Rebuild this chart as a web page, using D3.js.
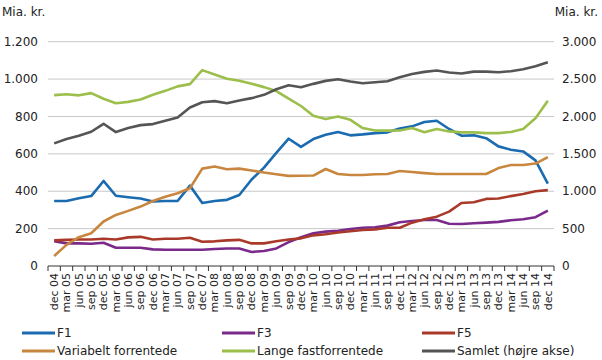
<!DOCTYPE html>
<html><head><meta charset="utf-8">
<script src="https://cdn.jsdelivr.net/npm/d3@7"></script>
<style>body{margin:0;background:#fff}svg{display:block}text{font-family:"DejaVu Sans",Verdana,sans-serif;fill:#222}</style>
</head><body><svg id="c" width="602" height="360"></svg>
<script>
const categories = ["dec 04","mar 05","jun 05","sep 05","dec 05","mar 06","jun 06","sep 06","dec 06","mar 07","jun 07","sep 07","dec 07","mar 08","jun 08","sep 08","dec 08","mar 09","jun 09","sep 09","dec 09","mar 10","jun 10","sep 10","dec 10","mar 11","jun 11","sep 11","dec 11","mar 12","jun 12","sep 12","dec 12","mar 13","jun 13","sep 13","dec 13","mar 14","jun 14","sep 14","dec 14"];
const F1 = [348,348,362,374,455,376,368,361,345,348,348,430,337,348,354,380,463,526,605,681,637,679,702,717,699,704,711,715,736,747,770,777,733,697,699,684,640,622,613,565,441];
const F3 = [133,121,121,119,124,98,98,98,89,87,87,87,87,91,94,94,75,80,94,128,154,175,184,189,198,205,207,216,234,241,246,246,226,225,229,232,236,245,250,261,296];
const F5 = [137,140,142,142,146,142,153,156,142,146,146,151,130,132,137,140,121,121,132,142,148,164,170,179,186,193,196,205,205,232,250,264,291,337,341,359,361,374,385,400,406];
const variabelt = [54,113,154,175,238,273,295,318,348,371,389,416,521,532,518,521,511,500,491,482,483,484,519,492,487,487,491,492,508,503,497,492,492,492,492,492,524,540,540,548,583];
const lange = [914,919,913,925,895,871,878,891,916,937,961,973,1048,1025,1002,991,975,957,936,895,856,804,786,800,782,738,725,724,725,738,716,733,720,715,715,711,711,717,733,791,884];
const samlet = [1640,1698,1742,1796,1902,1791,1845,1884,1898,1942,1987,2120,2191,2205,2178,2213,2245,2289,2364,2418,2391,2436,2476,2498,2467,2445,2458,2471,2525,2569,2596,2614,2587,2574,2600,2600,2591,2605,2631,2671,2725];
const leftTicks = [0,200,400,600,800,1000,1200];
const rightTicks = [0,500,1000,1500,2000,2500,3000];
const seriesNames = ["F1","F3","F5","Variabelt forrentede","Lange fastforrentede","Samlet (højre akse)"];

const colors = ["#1a6bb0","#7a2a8a","#a93a2a","#c8863e","#9bbf4a","#555555"];
const series = [
  {name:seriesNames[0], values:F1, axis:"L"},
  {name:seriesNames[1], values:F3, axis:"L"},
  {name:seriesNames[2], values:F5, axis:"L"},
  {name:seriesNames[3], values:variabelt, axis:"L"},
  {name:seriesNames[4], values:lange, axis:"L"},
  {name:seriesNames[5], values:samlet, axis:"R"}
];

const svg = d3.select("#c");
const x0 = 48, x1 = 554, yTop = 41.7, yBot = 266;
const x = d3.scaleBand().domain(categories).range([x0,x1]);
const yL = d3.scaleLinear().domain([0,1200]).range([yBot,yTop]);
const yR = d3.scaleLinear().domain([0,3000]).range([yBot,yTop]);

// gridlines
svg.append("g").selectAll("line").data(leftTicks.slice(1)).join("line")
  .attr("x1",x0).attr("x2",x1).attr("y1",d=>yL(d)).attr("y2",d=>yL(d))
  .attr("stroke","#c8c8c8").attr("stroke-width",1);

// left axis labels
svg.append("g").selectAll("text").data(leftTicks).join("text")
  .attr("x",38).attr("y",d=>yL(d)).attr("dy","0.35em").attr("text-anchor","end")
  .style("font-size","12px").text(d=>d3.format(",")(d).replace(/,/g,"."));
// right axis labels
svg.append("g").selectAll("text").data(rightTicks).join("text")
  .attr("x",562).attr("y",d=>yR(d)).attr("dy","0.35em").attr("text-anchor","start")
  .style("font-size","12px").text(d=>d3.format(",")(d).replace(/,/g,"."));

svg.append("text").attr("x",2).attr("y",16).style("font-size","12px").text("Mia. kr.");
svg.append("text").attr("x",598).attr("y",16).attr("text-anchor","end").style("font-size","12px").text("Mia. kr.");

// x axis
const xa = svg.append("g").attr("transform",`translate(0,${yBot})`);
xa.append("line").attr("x1",x0).attr("x2",x1).attr("stroke","#333");
const edges = categories.map(c=>x(c)).concat([x1]);
xa.selectAll("line.t").data(edges).join("line").attr("class","t")
  .attr("x1",d=>d).attr("x2",d=>d).attr("y1",0).attr("y2",5).attr("stroke","#333");
xa.selectAll("text").data(categories).join("text")
  .attr("transform",d=>`translate(${x(d)+x.bandwidth()/2},7) rotate(-90)`)
  .attr("text-anchor","end").attr("dy","0.35em").style("font-size","11px").text(d=>d);

// lines
series.forEach((s,k)=>{
  const ys = s.axis==="L"?yL:yR;
  const line = d3.line().x((d,i)=>x(categories[i])+x.bandwidth()/2).y(d=>ys(d));
  svg.append("path").datum(s.values).attr("d",line).attr("fill","none")
    .attr("stroke",colors[k]).attr("stroke-width",2.6).attr("stroke-linejoin","round");
});

// legend
const legPos = [[22,333],[222,333],[422,333],[22,351],[222,351],[422,351]];
series.forEach((s,k)=>{
  const [lx,ly] = legPos[k];
  svg.append("line").attr("x1",lx).attr("x2",lx+33).attr("y1",ly).attr("y2",ly)
    .attr("stroke",colors[k]).attr("stroke-width",3);
  svg.append("text").attr("x",lx+35).attr("y",ly).attr("dy","0.35em")
    .style("font-size","12px").text(s.name);
});
</script></body></html>
